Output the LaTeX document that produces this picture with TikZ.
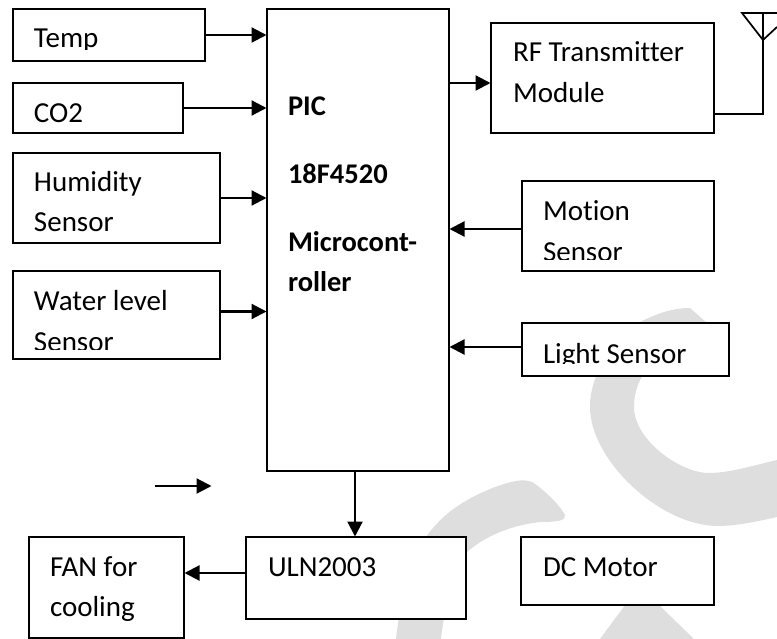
\documentclass[tikz,border=0pt]{standalone}
\usepackage{fontspec}
\setmainfont[RawFeature={-liga;-clig;-dlig}]{Carlito}
\usetikzlibrary{arrows.meta}
\definecolor{wmgray}{HTML}{DEDEDE}
\tikzset{
  x=1pt,y=-1pt,
  box/.style={draw=black,fill=white,line width=1.7pt,inner sep=0pt,outer sep=0pt,anchor=north west},
  lab/.style={inner sep=0pt,outer sep=0pt,anchor=base west,text=black,font=\fontsize{29}{34}\selectfont},
  blab/.style={lab,font=\fontsize{28.5}{34}\selectfont\bfseries},
  arr/.style={line width=2.2pt,-{Triangle[length=15pt,width=15pt]},shorten >=0.5pt},
  wire/.style={line width=1.7pt}
}
\begin{document}
\begin{tikzpicture}
\useasboundingbox (0,0) rectangle (777,639);
\fill[white] (0,0) rectangle (777,639);
% watermark
\fill[wmgray] (640,322) .. controls (660,312) and (675,308) .. (690,308)
  -- (707,323) .. controls (665,345) and (634,370) .. (634,407)
  .. controls (634,440) and (680,473) .. (709,473)
  .. controls (730,473) and (755,465) .. (777,460) -- (777,517)
  .. controls (755,522) and (735,526) .. (718,526)
  .. controls (660,526) and (590,460) .. (590,407)
  .. controls (590,375) and (610,345) .. (640,322) -- cycle;
\fill[wmgray] (495,487) .. controls (510,482) and (522,478) .. (532,482)
  .. controls (542,488) and (560,505) .. (565,515)
  .. controls (566,520) and (560,522) .. (540,522)
  .. controls (505,526) and (480,540) .. (466,553)
  .. controls (452,580) and (444,610) .. (441,639) -- (396,639)
  .. controls (400,600) and (412,565) .. (426,537)
  .. controls (445,510) and (470,497) .. (495,487) -- cycle;
\fill[wmgray] (600,639) -- (640,585) -- (662,608) -- (694,639) -- cycle;
% boxes
\node[box,minimum width=192pt,minimum height=52pt] (temp) at (13,9) {};
\node[box,minimum width=170pt,minimum height=50pt] (co2) at (13,83) {};
\node[box,minimum width=207pt,minimum height=90pt] (hum) at (13,153) {};
\node[box,minimum width=207pt,minimum height=88pt] (water) at (13,271) {};
\node[box,minimum width=182pt,minimum height=462pt] (pic) at (267,9) {};
\node[box,minimum width=223pt,minimum height=110pt] (rf) at (491,23) {};
\node[box,minimum width=192pt,minimum height=90pt] (motion) at (522,181) {};
\node[box,minimum width=207pt,minimum height=53pt] (light) at (522,323) {};
\node[box,minimum width=220pt,minimum height=82pt] (uln) at (246,537) {};
\node[box,minimum width=155pt,minimum height=101pt] (fan) at (29,537) {};
\node[box,minimum width=193pt,minimum height=68pt] (dc) at (521,537) {};
% labels
\begin{scope}\clip (14,10) rectangle (204,50);
\node[lab] (ltemp) at (34,48) {Temp};\end{scope}
\node[lab] (lco2) at (34,123) {CO2};
\node[lab] (lhum1) at (34,192) {Humidity};
\node[lab] (lhum2) at (34,232) {Sensor};
\node[lab] (lwat1) at (34,310) {Water level};
\begin{scope}\clip (14,272) rectangle (219,349);
\node[lab] (lwat2) at (34,351) {Sensor};\end{scope}
\node[blab] (lpic1) at (288,116) {PIC};
\node[blab] (lpic2) at (288,184) {18F4520};
\node[blab] (lpic3) at (288,252) {Microcont-};
\node[blab] (lpic4) at (288,292) {roller};
\node[lab] (lrf1) at (513,62) {RF Transmitter};
\node[lab] (lrf2) at (513,103) {Module};
\node[lab] (lmot1) at (543,221) {Motion};
\begin{scope}\clip (523,182) rectangle (713,260);
\node[lab] (lmot2) at (543,262) {Sensor};\end{scope}
\begin{scope}\clip (523,324) rectangle (728,363);
\node[lab] (llight) at (543,363) {Light Sensor};\end{scope}
\node[lab] (luln) at (268,576) {ULN2003};
\node[lab] (lfan1) at (50,576) {FAN for};
\node[lab] (lfan2) at (50,616) {cooling};
\node[lab] (ldc) at (543,576) {DC Motor};
% connectors
\draw[arr] (temp.east) -- (temp.east -| pic.west);
\draw[arr] (co2.east) -- (co2.east -| pic.west);
\draw[arr] (hum.east) -- (hum.east -| pic.west);
\draw[arr] ([yshift=3.5pt]water.east) -- ([yshift=3.5pt]water.east -| pic.west);
\draw[arr] ([yshift=-5pt]pic.east |- rf.west) -- ([yshift=-5pt]rf.west);
\draw[arr] ([yshift=-3pt]motion.west) -- ([yshift=-3pt]motion.west -| pic.east);
\draw[arr] ([yshift=2.5pt]light.west) -- ([yshift=2.5pt]light.west -| pic.east);
\draw[arr] ([xshift=-3pt]pic.south) -- ([xshift=-3pt]pic.south |- uln.north);
\draw[arr] ([yshift=5pt]uln.west) -- ([yshift=5pt]uln.west -| fan.east);
\coordinate (s1) at (155,486);
\coordinate (s2) at (212,486);
\draw[arr] (s1) -- (s2);
% antenna
\coordinate (ant) at (763,13);
\coordinate (apex) at (763,40);
\coordinate (al) at (742,13);
\coordinate (ar) at (777,13);
\coordinate (ar2) at (777,27);
\draw[wire] ([yshift=-36pt]rf.east) -- ++(49,0) -- (ant);
\draw[wire] (ar) -- (al) -- (apex) -- (ar2);
\end{tikzpicture}
\end{document}
